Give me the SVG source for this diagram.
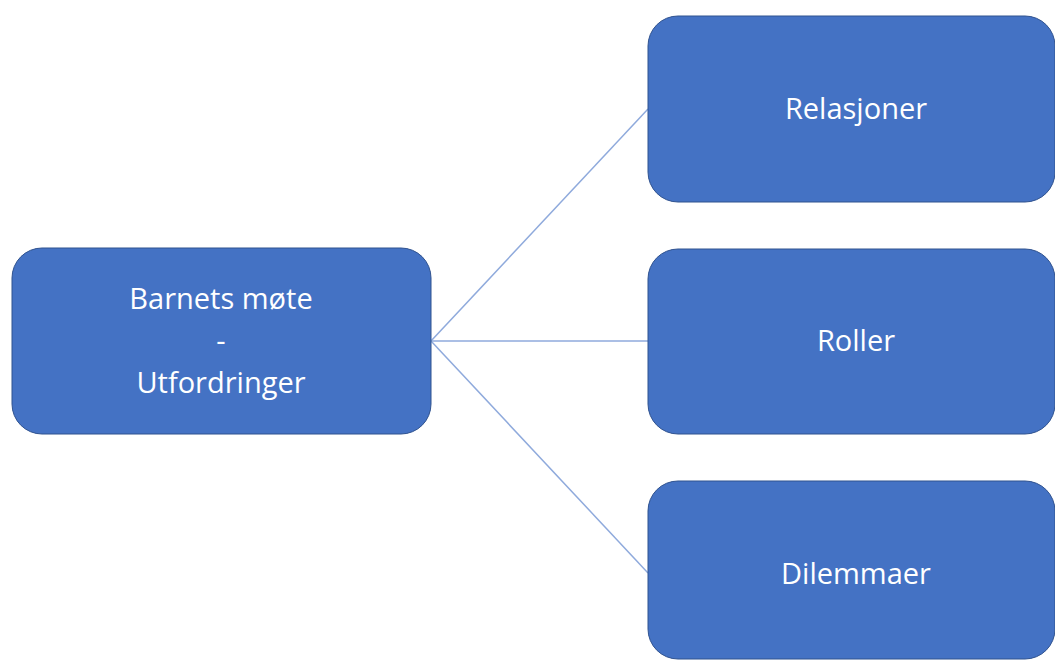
<svg xmlns="http://www.w3.org/2000/svg" width="1055" height="660" viewBox="0 0 1055 660">
<style>
.box{fill:#4472C4;stroke:#2F528F;stroke-width:1}
.t{fill:#fff;font-family:"Open Sans","Liberation Sans",sans-serif;font-size:29px;text-anchor:middle}
.c{stroke:#8FAADC;stroke-width:1.5;fill:none}
</style>
<rect width="1055" height="660" fill="#fff"/>
<g id="connectors">
<line class="c" x1="431" y1="341" x2="648" y2="109"/>
<line class="c" x1="431" y1="341" x2="648" y2="341"/>
<line class="c" x1="431" y1="341" x2="648" y2="573"/>
</g>
<g id="n-barnets">
<rect class="box" x="12" y="248" width="419" height="186" rx="30"/>
<text class="t" x="221" y="309">Barnets møte</text>
<text class="t" x="221" y="351">-</text>
<text class="t" x="221" y="393">Utfordringer</text>
</g>
<g id="n-relasjoner">
<rect class="box" x="648" y="16" width="407" height="186" rx="30"/>
<text class="t" x="856" y="119">Relasjoner</text>
</g>
<g id="n-roller">
<rect class="box" x="648" y="249" width="407" height="185" rx="30"/>
<text class="t" x="856" y="351">Roller</text>
</g>
<g id="n-dilemmaer">
<rect class="box" x="648" y="481" width="407" height="178" rx="30"/>
<text class="t" x="856" y="584">Dilemmaer</text>
</g>
</svg>
